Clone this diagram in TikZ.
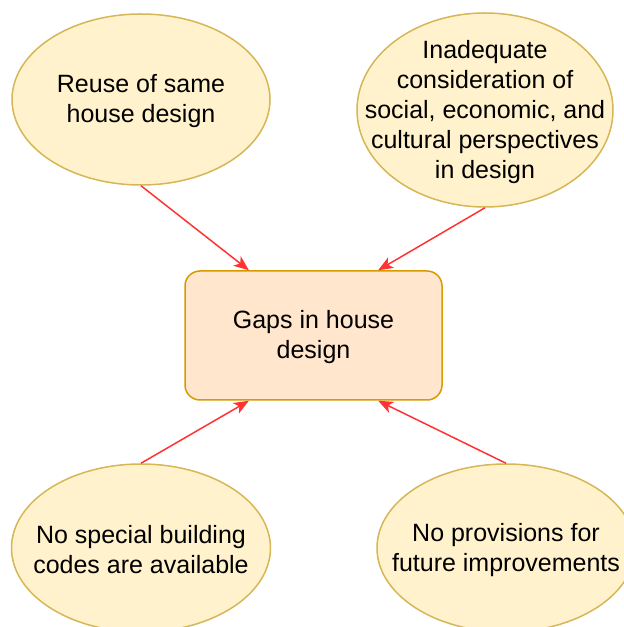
\documentclass[tikz,border=0pt]{standalone}
\usepackage{fontspec}
\setmainfont{Liberation Sans}
\usetikzlibrary{arrows.meta,positioning,calc,shapes.geometric}
\definecolor{bubblefill}{HTML}{FFF2CC}
\definecolor{bubbleline}{HTML}{D6B656}
\definecolor{gapfill}{HTML}{FFE6CC}
\definecolor{gapline}{HTML}{D79B00}
\definecolor{pilred}{HTML}{FF3333}
\tikzset{
    %Define standard arrow tip
    >={Stealth[length=15pt,width=12pt,inset=4pt]},
    %Define style for the cause ellipses
    bubble/.style={
           ellipse,
           draw=bubbleline,
           fill=bubblefill,
           line width=1.5pt,
           inner sep=0pt},
    bubbletext/.style={
           align=center,
           yshift=-2pt,
           font=\fontsize{25}{30}\selectfont},
    %Define style for the central box
    gapbox/.style={
           rectangle,
           rounded corners=15pt,
           draw=gapline,
           fill=gapfill,
           line width=1.5pt,
           minimum width=257pt,
           minimum height=129pt,
           align=center,
           font=\fontsize{25}{30}\selectfont},
    % Define arrow style
    pil/.style={
           ->,
           draw=pilred,
           line width=1.5pt}
}

\begin{document}
\begin{tikzpicture}
	\useasboundingbox (0,0) rectangle (624pt,627pt);

	% Central box
	\node[gapbox] (gaps) at (313.5pt,291.5pt) {};
	\node[bubbletext] (gapstext) at (gaps) {Gaps in house\\design};

	% Causes
	\node[bubble, minimum width=258pt, minimum height=171pt,
	      label={[bubbletext]center:Reuse of same\\house design}]
	      (reuse) at (141pt,527.5pt) {};
	\node[bubble, minimum width=256pt, minimum height=194pt,
	      label={[bubbletext]center:Inadequate\\consideration of\\social, economic, and\\cultural perspectives\\in design}]
	      (social) at (485pt,517pt) {};
	\node[bubble, minimum width=259pt, minimum height=168pt,
	      label={[bubbletext]center:No special building\\codes are available}]
	      (codes) at (141pt,79pt) {};
	\node[bubble, minimum width=258pt, minimum height=168pt,
	      label={[bubbletext]center:No provisions for\\future improvements}]
	      (future) at (506pt,79pt) {};

	% Connectors
	\draw[pil] (reuse.south) -- ($(gaps.north west)!.25!(gaps.north east)$);
	\draw[pil] (social.south) -- ($(gaps.north west)!.75!(gaps.north east)$);
	\draw[pil] (codes.north) -- ($(gaps.south west)!.25!(gaps.south east)$);
	\draw[pil] (future.north) -- ($(gaps.south west)!.75!(gaps.south east)$);
\end{tikzpicture}
\end{document}
